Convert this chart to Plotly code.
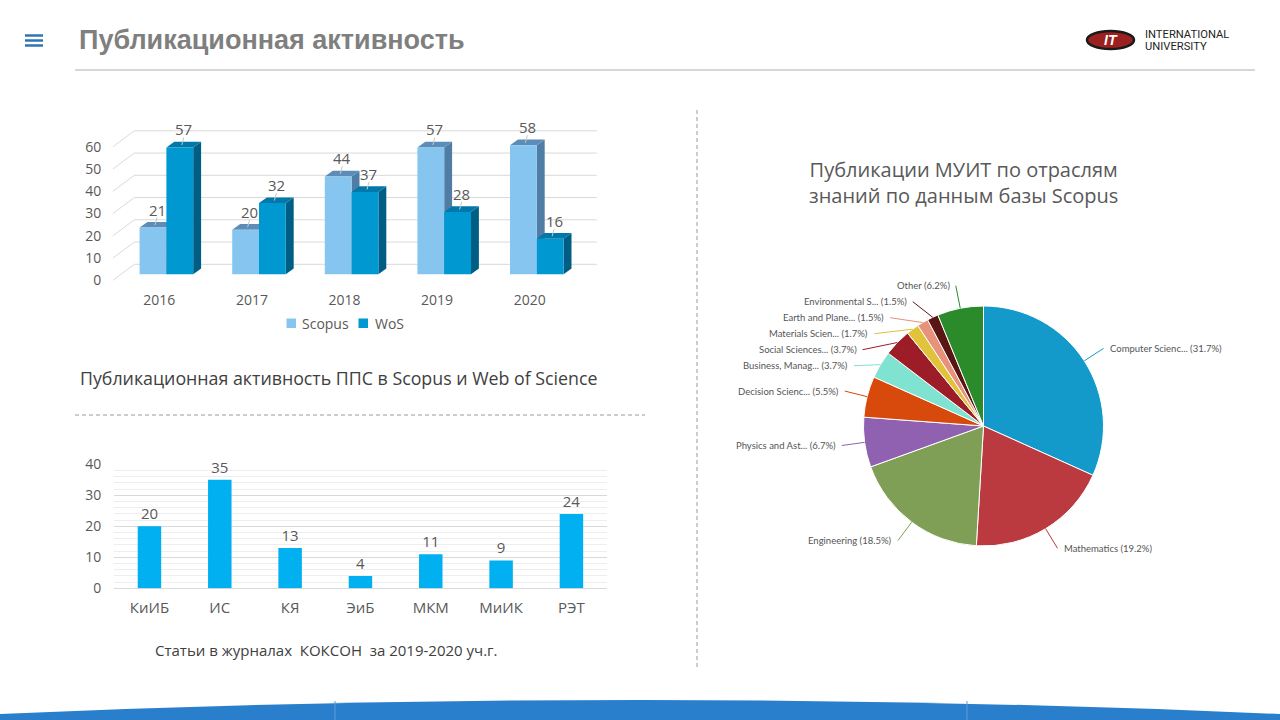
import math
import plotly.graph_objects as go

W, H = 1280, 720

# ---------------- data ----------------
years = ["2016", "2017", "2018", "2019", "2020"]
scopus = [21, 20, 44, 57, 58]
wos = [57, 32, 37, 28, 16]
top_ticks = [0, 10, 20, 30, 40, 50, 60]

depts = ["КиИБ", "ИС", "КЯ", "ЭиБ", "МКМ", "МиИК", "РЭТ"]
koks = [20, 35, 13, 4, 11, 9, 24]

subjects = ["Computer Scienc...", "Mathematics", "Engineering", "Physics and Ast...",
            "Decision Scienc...", "Business, Manag...", "Social Sciences...",
            "Materials Scien...", "Earth and Plane...", "Environmental S...", "Other"]
shares = [31.7, 19.2, 18.5, 6.7, 5.5, 3.7, 3.7, 1.7, 1.5, 1.5, 6.2]
pie_colors = ["#139acb", "#bb3a3f", "#7e9f55", "#9161b1", "#d8490c", "#80e2d1",
              "#9c1c27", "#e1c23b", "#e8917b", "#5a1515", "#2b8b2b"]

# ---------------- helpers ----------------
def px(x):
    return x / W

def py(y):
    return 1 - y / H

GREY = "#595959"
FONT = "Open Sans"
shapes = []
annotations = []

# ---------------- top 3D-like bar chart ----------------
CX0, CW = 159.3, 92.6      # pixel of first category, pixels per category
Y0, YS = 274.3, 2.225      # pixel of value 0 (front), pixels per unit
XR = [-0.52, 4.75]
YR = [-3.5, 66]
series = [
    dict(name="Scopus", vals=scopus, off=-0.2127, w=0.2894,
         front="#85c5f0", top="#5c8db8", side="#4f7da6"),
    dict(name="WoS", vals=wos, off=0.0767, w=0.2894,
         front="#0098d0", top="#0079aa", side="#005e85"),
]
dx = 7.9 / CW
dy = 5.7 / YS

# back-wall gridlines (perspective)
xa, xb, xc = (112.9 - CX0) / CW, (134.3 - CX0) / CW, (596.8 - CX0) / CW
for v in top_ticks:
    shapes.append(dict(type="path", xref="x", yref="y", layer="below",
                       path=f"M{xa},{v - 6 / YS} L{xb},{v + 10 / YS} L{xc},{v + 10 / YS}",
                       line=dict(color="#d9d9d9", width=1)))

fig = go.Figure()
leaders = []
for s in series:
    xs = list(range(len(years)))
    fig.add_trace(go.Bar(x=xs, y=s["vals"], name=s["name"], offset=s["off"], width=s["w"],
                         marker=dict(color=s["front"], line=dict(width=0)),
                         xaxis="x", yaxis="y", showlegend=False,
                         hovertemplate=s["name"] + " %{y}<extra></extra>"))
    for i, v in enumerate(s["vals"]):
        xl = i + s["off"]
        xr = xl + s["w"]
        shapes.append(dict(type="path", xref="x", yref="y", layer="below",
                           path=f"M{xr},0 L{xr},{v} L{xr + dx},{v + dy} L{xr + dx},{dy} Z",
                           fillcolor=s["side"], line=dict(width=0)))
        shapes.append(dict(type="path", xref="x", yref="y", layer="below",
                           path=f"M{xl},{v} L{xr},{v} L{xr + dx},{v + dy} L{xl + dx},{v + dy} Z",
                           fillcolor=s["top"], line=dict(width=0)))
        xm = xl + s["w"] / 2
        # small leader line from the bar top to its value label
        leaders.append(dict(type="line", xref="x", yref="y", layer="above",
                            x0=xm + 2 / CW, y0=v + 2.5 / YS, x1=xm + 4 / CW, y1=v + 10 / YS,
                            line=dict(color="#c8c8c8", width=1)))
        annotations.append(dict(x=xm, y=v, xref="x", yref="y", text=str(v),
                                showarrow=False, xshift=4, yshift=18, yanchor="middle",
                                font=dict(size=15, color=GREY, family=FONT)))
shapes.extend(leaders)

# manual legend
leg = [("Scopus", series[0]["front"], 286.5, 299.5), ("WoS", series[1]["front"], 358.5, 372.5)]
for name, col, sx, tx in leg:
    shapes.append(dict(type="rect", xref="paper", yref="paper",
                       x0=px(sx), x1=px(sx + 9.5), y0=py(328), y1=py(318.5),
                       fillcolor=col, line=dict(width=0)))
    annotations.append(dict(x=px(tx), y=py(323), xref="paper", yref="paper", text=name,
                            showarrow=False, xanchor="left", yanchor="middle",
                            font=dict(size=14, color=GREY, family=FONT)))

annotations.append(dict(x=px(339), y=py(378), xref="paper", yref="paper",
                        text="Публикационная активность ППС в Scopus и Web of Science",
                        showarrow=False, xanchor="center", yanchor="middle",
                        font=dict(size=17.8, color="#404040", family=FONT)))

# ---------------- bottom bar chart ----------------
fig.add_trace(go.Bar(x=list(range(len(depts))), y=koks, width=0.334,
                     marker=dict(color="#00b0f0", line=dict(width=0)),
                     text=koks, textposition="outside", cliponaxis=False,
                     textfont=dict(size=15, color=GREY, family=FONT),
                     xaxis="x2", yaxis="y2", showlegend=False,
                     hovertemplate="%{y}<extra></extra>"))
annotations.append(dict(x=px(326), y=py(650), xref="paper", yref="paper",
                        text="Статьи в журналах  КОКСОН  за 2019-2020 уч.г.",
                        showarrow=False, xanchor="center", yanchor="middle",
                        font=dict(size=15, color="#404040", family=FONT)))

# ---------------- pie ----------------
PCX, PCY, PR = 983.5, 426.0, 120.0
fig.add_trace(go.Pie(labels=subjects, values=shares, sort=False, direction="clockwise",
                     rotation=0, textinfo="none", showlegend=False, automargin=False,
                     marker=dict(colors=pie_colors, line=dict(color="white", width=1)),
                     domain=dict(x=[px(PCX - PR), px(PCX + PR)], y=[py(PCY + PR), py(PCY - PR)]),
                     hovertemplate="%{label} %{value}%<extra></extra>"))

total = sum(shares)
RL = PR + 23
cum = 0.0
items = []
for name, val, col in zip(subjects, shares, pie_colors):
    mid = (cum + val / 2) / total * 2 * math.pi
    cum += val
    ex, ey = PCX + PR * math.sin(mid), PCY - PR * math.cos(mid)
    items.append(dict(name=name, val=val, col=col, mid=mid, ex=ex, ey=ey,
                      side=1 if math.sin(mid) > 0 else -1,
                      y=PCY - RL * math.cos(mid)))
for side in (1, -1):
    grp = sorted([it for it in items if it["side"] == side], key=lambda d: d["y"])
    for k in range(1, len(grp)):
        if grp[k]["y"] < grp[k - 1]["y"] + 16:
            grp[k]["y"] = grp[k - 1]["y"] + 16
for it in items:
    dyl = it["y"] - PCY
    lx = PCX + it["side"] * math.sqrt(max(RL ** 2 - dyl ** 2, 0))
    shapes.append(dict(type="line", xref="paper", yref="paper",
                       x0=px(lx), y0=py(it["y"]), x1=px(it["ex"]), y1=py(it["ey"]),
                       line=dict(color=it["col"], width=1)))
    annotations.append(dict(x=px(lx + 4 * it["side"]), y=py(it["y"]), xref="paper", yref="paper",
                            text=f"{it['name']} ({it['val']}%)", showarrow=False,
                            xanchor="left" if it["side"] > 0 else "right", yanchor="middle",
                            font=dict(size=9.5, color="#555555", family="Lato")))

annotations.append(dict(x=px(963), y=py(182), xref="paper", yref="paper",
                        text="Публикации МУИТ по отраслям<br>знаний по данным базы Scopus",
                        showarrow=False, xanchor="center", yanchor="middle",
                        font=dict(size=20, color=GREY, family=FONT)))

# ---------------- slide decorations ----------------
for yy in (35.5, 40.5, 45.5):
    shapes.append(dict(type="line", xref="paper", yref="paper", x0=px(25), x1=px(43),
                       y0=py(yy), y1=py(yy), line=dict(color="#2e75b6", width=2.5)))
annotations.append(dict(x=px(77), y=py(40), xref="paper", yref="paper",
                        text="<b>Публикационная активность</b>", showarrow=False,
                        xanchor="left", yanchor="middle",
                        font=dict(size=27, color="#7f7f7f", family="Liberation Sans")))
shapes.append(dict(type="line", xref="paper", yref="paper", x0=px(75), x1=px(1255),
                   y0=py(70), y1=py(70), line=dict(color="#b0b0b0", width=1)))
# logo
shapes.append(dict(type="circle", xref="paper", yref="paper", x0=px(1087), x1=px(1134),
                   y0=py(49), y1=py(31), fillcolor="#9b2121", line=dict(color="#1a1a1a", width=2.5)))
annotations.append(dict(x=px(1110.5), y=py(40), xref="paper", yref="paper", text="<b><i>IT</i></b>",
                        showarrow=False, xanchor="center", yanchor="middle",
                        font=dict(size=14, color="white", family="Liberation Sans")))
for txt, yy in (("INTERNATIONAL", 34), ("UNIVERSITY", 46.5)):
    annotations.append(dict(x=px(1143), y=py(yy), xref="paper", yref="paper", text=txt,
                            showarrow=False, xanchor="left", yanchor="middle",
                            font=dict(size=11.2, color="#231f20", family="Roboto")))
# dashed separators
shapes.append(dict(type="line", xref="paper", yref="paper", x0=px(75), x1=px(645),
                   y0=py(415), y1=py(415), line=dict(color="#9a9a9a", width=1, dash="4px,3px")))
shapes.append(dict(type="line", xref="paper", yref="paper", x0=px(697), x1=px(697),
                   y0=py(110), y1=py(668), line=dict(color="#9a9a9a", width=1, dash="4px,3px")))
# bottom band
shapes.append(dict(type="path", xref="paper", yref="paper",
                   path=f"M0,0 L0,{py(714)} Q0.5,{py(686)} 1,{py(714)} L1,0 Z",
                   fillcolor="#2a7fcc", line=dict(width=0)))
for xx in (335, 967):
    shapes.append(dict(type="line", xref="paper", yref="paper", x0=px(xx), x1=px(xx),
                       y0=py(701), y1=0, line=dict(color="#5b9ddb", width=1)))

axis_font = dict(size=14, color=GREY, family=FONT)
fig.update_layout(
    template="none",
    width=W, height=H, margin=dict(l=0, r=0, t=0, b=0, pad=0, autoexpand=False),
    paper_bgcolor="white", plot_bgcolor="rgba(0,0,0,0)",
    barmode="overlay", font=dict(family=FONT, color=GREY),
    xaxis=dict(domain=[px(CX0 + XR[0] * CW), px(CX0 + XR[1] * CW)], range=XR,
               tickvals=list(range(len(years))), ticktext=years, showgrid=False,
               zeroline=False, showline=False, ticks="", tickfont=axis_font,
               ticklabelstandoff=8, automargin=False, fixedrange=True),
    yaxis=dict(domain=[py(Y0 - YR[0] * YS), py(Y0 - YR[1] * YS)], range=YR,
               tickvals=top_ticks, showgrid=False, zeroline=False, showline=False,
               ticks="", tickfont=axis_font, ticklabelshift=6, ticklabelstandoff=9,
               automargin=False, fixedrange=True),
    xaxis2=dict(domain=[px(114.3), px(606.6)], range=[-0.5, 6.5], anchor="y2",
                tickvals=list(range(len(depts))), ticktext=depts, showgrid=False,
                zeroline=False, showline=False, ticks="",
                tickfont=dict(size=15, color=GREY, family=FONT), ticklabelstandoff=9,
                automargin=False, fixedrange=True),
    yaxis2=dict(domain=[py(588.3), py(464.3)], range=[0, 40], anchor="x2", dtick=10,
                showgrid=True, gridcolor="#d9d9d9", gridwidth=1, zeroline=True,
                zerolinecolor="#d9d9d9", zerolinewidth=1, showline=False, ticks="",
                minor=dict(dtick=2, showgrid=True, gridcolor="#eeeeee", gridwidth=1),
                tickfont=axis_font, ticklabelstandoff=12, automargin=False, fixedrange=True),
    shapes=shapes, annotations=annotations,
)

fig.write_html("out.html")
